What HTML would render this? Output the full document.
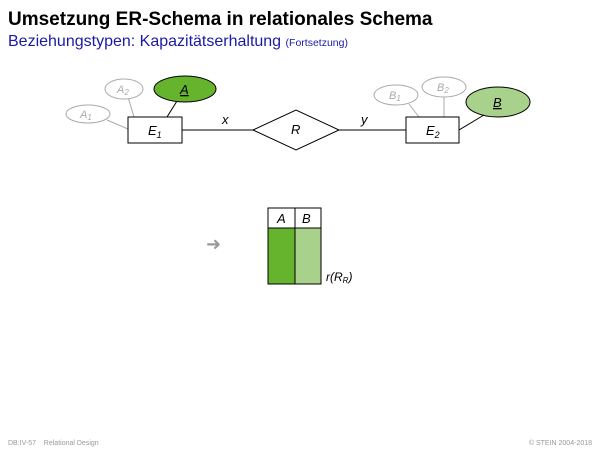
<!DOCTYPE html><html><head><style>body{margin:0;width:600px;height:450px;background:#fff;overflow:hidden;font-family:"Liberation Sans",sans-serif}</style></head><body>
<svg width="600" height="450" xmlns="http://www.w3.org/2000/svg" font-family="Liberation Sans, sans-serif">
<text x="8" y="25" font-size="19" font-weight="bold" fill="#000">Umsetzung ER-Schema in relationales Schema</text>
<text x="8" y="46" font-size="16" fill="#1a1aa6">Beziehungstypen: Kapazitätserhaltung <tspan font-size="10.5">(Fortsetzung)</tspan></text>
<g stroke="#aaa" fill="none">
<line x1="107" y1="120" x2="128" y2="129"/><line x1="128" y1="97" x2="134" y2="117"/>
<line x1="409" y1="104" x2="419" y2="117"/><line x1="444" y1="97" x2="444" y2="117"/>
<ellipse cx="88" cy="114" rx="22" ry="9" fill="#fff"/><ellipse cx="124" cy="89" rx="19" ry="10" fill="#fff"/>
<ellipse cx="396" cy="95" rx="22" ry="10" fill="#fff"/><ellipse cx="444" cy="87" rx="22" ry="10" fill="#fff"/>
</g>
<g stroke="#000" stroke-width="1">
<line x1="177" y1="101" x2="167" y2="117"/><line x1="484" y1="115" x2="459" y2="130"/>
<line x1="182" y1="130" x2="253" y2="130"/><line x1="339" y1="130" x2="406" y2="130"/>
<ellipse cx="185" cy="89" rx="31" ry="13" fill="#66b32e"/>
<ellipse cx="498" cy="102" rx="32" ry="15" fill="#a8d18c"/>
<rect x="128" y="117" width="54" height="26" fill="#fff"/>
<rect x="406" y="117" width="53" height="26" fill="#fff"/>
<polygon points="253,130 296,110 339,130 296,150" fill="#fff"/>
</g>
<g font-style="italic" font-size="13">
<text x="80" y="118" font-size="11" fill="#aaa">A<tspan font-size="8" dy="2">1</tspan></text>
<text x="117" y="93" font-size="11" fill="#aaa">A<tspan font-size="8" dy="2">2</tspan></text>
<text x="389" y="99" font-size="11" fill="#aaa">B<tspan font-size="8" dy="2">1</tspan></text>
<text x="437" y="91" font-size="11" fill="#aaa">B<tspan font-size="8" dy="2">2</tspan></text>
<text x="180" y="94" text-decoration="underline">A</text>
<text x="493" y="107" text-decoration="underline">B</text>
<text x="148" y="135">E<tspan font-size="9" dy="3">1</tspan></text>
<text x="426" y="135">E<tspan font-size="9" dy="3">2</tspan></text>
<text x="291" y="134">R</text>
<text x="222" y="124">x</text>
<text x="361" y="124">y</text>
</g>
<text x="206" y="250" font-size="18" fill="#999">➜</text>
<rect x="268" y="228" width="27" height="56" fill="#66b32e"/>
<rect x="295" y="228" width="26" height="56" fill="#a8d18c"/>
<g stroke="#000" fill="none"><rect x="268" y="208" width="53" height="76"/><line x1="268" y1="228" x2="321" y2="228"/><line x1="295" y1="208" x2="295" y2="284"/></g>
<text x="277" y="223" font-size="13" font-style="italic">A</text>
<text x="302" y="223" font-size="13" font-style="italic">B</text>
<text x="326" y="281" font-size="12" font-style="italic">r(R<tspan font-size="8" dy="2">R</tspan><tspan dy="-2">)</tspan></text>
<text x="8" y="445" font-size="7" fill="#999" xml:space="preserve">DB:IV-57    Relational Design</text>
<text x="592" y="445" font-size="7" fill="#999" text-anchor="end">© STEIN 2004-2018</text>
</svg></body></html>
